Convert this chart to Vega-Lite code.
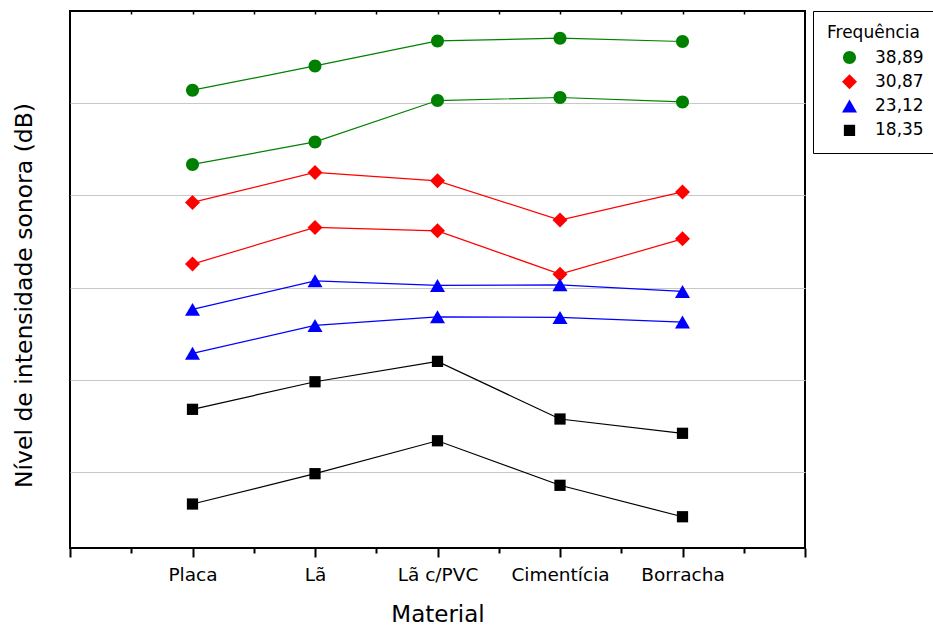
{
  "$schema": "https://vega.github.io/schema/vega-lite/v6.json",
  "width": 735,
  "height": 537,
  "autosize": "none",
  "padding": {"left": 70, "top": 11, "right": 128, "bottom": 78},
  "background": "white",
  "config": {
    "font": "DejaVu Sans",
    "view": {"stroke": "#000", "strokeWidth": 2}
  },
  "data": {
    "values": [
      {"idx": 1, "material": "Placa", "freq": "38,89", "serie": "38,89 a", "nivel": 61.41},
      {"idx": 2, "material": "Lã", "freq": "38,89", "serie": "38,89 a", "nivel": 64.04},
      {"idx": 3, "material": "Lã c/PVC", "freq": "38,89", "serie": "38,89 a", "nivel": 66.75},
      {"idx": 4, "material": "Cimentícia", "freq": "38,89", "serie": "38,89 a", "nivel": 67.05},
      {"idx": 5, "material": "Borracha", "freq": "38,89", "serie": "38,89 a", "nivel": 66.69},
      {"idx": 1, "material": "Placa", "freq": "38,89", "serie": "38,89 b", "nivel": 53.36},
      {"idx": 2, "material": "Lã", "freq": "38,89", "serie": "38,89 b", "nivel": 55.80},
      {"idx": 3, "material": "Lã c/PVC", "freq": "38,89", "serie": "38,89 b", "nivel": 60.29},
      {"idx": 4, "material": "Cimentícia", "freq": "38,89", "serie": "38,89 b", "nivel": 60.62},
      {"idx": 5, "material": "Borracha", "freq": "38,89", "serie": "38,89 b", "nivel": 60.14},
      {"idx": 1, "material": "Placa", "freq": "30,87", "serie": "30,87 a", "nivel": 49.24},
      {"idx": 2, "material": "Lã", "freq": "30,87", "serie": "30,87 a", "nivel": 52.49},
      {"idx": 3, "material": "Lã c/PVC", "freq": "30,87", "serie": "30,87 a", "nivel": 51.58},
      {"idx": 4, "material": "Cimentícia", "freq": "30,87", "serie": "30,87 a", "nivel": 47.32},
      {"idx": 5, "material": "Borracha", "freq": "30,87", "serie": "30,87 a", "nivel": 50.38},
      {"idx": 1, "material": "Placa", "freq": "30,87", "serie": "30,87 b", "nivel": 42.55},
      {"idx": 2, "material": "Lã", "freq": "30,87", "serie": "30,87 b", "nivel": 46.53},
      {"idx": 3, "material": "Lã c/PVC", "freq": "30,87", "serie": "30,87 b", "nivel": 46.16},
      {"idx": 4, "material": "Cimentícia", "freq": "30,87", "serie": "30,87 b", "nivel": 41.46},
      {"idx": 5, "material": "Borracha", "freq": "30,87", "serie": "30,87 b", "nivel": 45.29},
      {"idx": 1, "material": "Placa", "freq": "23,12", "serie": "23,12 a", "nivel": 37.64},
      {"idx": 2, "material": "Lã", "freq": "23,12", "serie": "23,12 a", "nivel": 40.74},
      {"idx": 3, "material": "Lã c/PVC", "freq": "23,12", "serie": "23,12 a", "nivel": 40.24},
      {"idx": 4, "material": "Cimentícia", "freq": "23,12", "serie": "23,12 a", "nivel": 40.30},
      {"idx": 5, "material": "Borracha", "freq": "23,12", "serie": "23,12 a", "nivel": 39.59},
      {"idx": 1, "material": "Placa", "freq": "23,12", "serie": "23,12 b", "nivel": 32.87},
      {"idx": 2, "material": "Lã", "freq": "23,12", "serie": "23,12 b", "nivel": 35.90},
      {"idx": 3, "material": "Lã c/PVC", "freq": "23,12", "serie": "23,12 b", "nivel": 36.83},
      {"idx": 4, "material": "Cimentícia", "freq": "23,12", "serie": "23,12 b", "nivel": 36.77},
      {"idx": 5, "material": "Borracha", "freq": "23,12", "serie": "23,12 b", "nivel": 36.26},
      {"idx": 1, "material": "Placa", "freq": "18,35", "serie": "18,35 a", "nivel": 26.80},
      {"idx": 2, "material": "Lã", "freq": "18,35", "serie": "18,35 a", "nivel": 29.79},
      {"idx": 3, "material": "Lã c/PVC", "freq": "18,35", "serie": "18,35 a", "nivel": 32.00},
      {"idx": 4, "material": "Cimentícia", "freq": "18,35", "serie": "18,35 a", "nivel": 25.75},
      {"idx": 5, "material": "Borracha", "freq": "18,35", "serie": "18,35 a", "nivel": 24.20},
      {"idx": 1, "material": "Placa", "freq": "18,35", "serie": "18,35 b", "nivel": 16.53},
      {"idx": 2, "material": "Lã", "freq": "18,35", "serie": "18,35 b", "nivel": 19.82},
      {"idx": 3, "material": "Lã c/PVC", "freq": "18,35", "serie": "18,35 b", "nivel": 23.39},
      {"idx": 4, "material": "Cimentícia", "freq": "18,35", "serie": "18,35 b", "nivel": 18.56},
      {"idx": 5, "material": "Borracha", "freq": "18,35", "serie": "18,35 b", "nivel": 15.15}
    ]
  },
  "encoding": {
    "y": {
      "field": "nivel",
      "type": "quantitative",
      "scale": {"domain": [11.76, 70], "nice": false, "zero": false},
      "axis": {
        "values": [20, 30, 40, 50, 60],
        "grid": true,
        "gridColor": "#c8c8c8",
        "gridWidth": 1.2,
        "domain": false,
        "ticks": false,
        "labels": false,
        "title": "Nível de intensidade sonora (dB)",
        "titleFont": "DejaVu Sans",
        "titleFontSize": 23.5,
        "titleFontWeight": "normal",
        "titleColor": "#000",
        "titlePadding": 34,
        "titleY": 284
      }
    },
    "color": {
      "field": "freq",
      "type": "nominal",
      "scale": {"domain": ["38,89", "30,87", "23,12", "18,35"], "range": ["#008000", "#ff0000", "#0000ff", "#000000"]},
      "legend": {
        "title": "Frequência",
        "orient": "right",
        "offset": 8,
        "padding": 14,
        "strokeColor": "#000",
        "titleFont": "DejaVu Sans",
        "titleFontSize": 17,
        "titleFontWeight": "normal",
        "titleColor": "#000",
        "titlePadding": 7,
        "labelFont": "DejaVu Sans",
        "labelFontSize": 17,
        "labelColor": "#000",
        "rowPadding": 6.3,
        "symbolSize": 225,
        "symbolStrokeWidth": 0,
        "symbolOffset": 14,
        "labelOffset": 17,
        "encode": {
          "symbols": {
            "update": {
              "shape": {
                "condition": [
                  {"test": "datum.value === '38,89'", "value": "M-2.87,-0.067H2.87V0.067H-2.87ZM0.867,0A0.867,0.867,0,1,1,-0.867,0A0.867,0.867,0,1,1,0.867,0Z"},
                  {"test": "datum.value === '30,87'", "value": "M-2.87,-0.067H2.87V0.067H-2.87ZM-1,0L0,-1L1,0L0,1Z"},
                  {"test": "datum.value === '23,12'", "value": "M-2.87,-0.067H2.87V0.067H-2.87ZM0,-0.866L1,0.866L-1,0.866Z"}
                ],
                "value": "M-2.87,-0.067H2.87V0.067H-2.87ZM-0.75,-0.75H0.75V0.75H-0.75Z"
              }
            }
          }
        }
      }
    }
  },
  "layer": [
    {
      "mark": {"type": "line", "strokeWidth": 1.2},
      "encoding": {
        "x": {
          "field": "idx",
          "type": "quantitative",
          "scale": {"domain": [0, 6], "nice": false, "zero": false},
          "axis": {
            "orient": "bottom",
            "values": [0, 1, 2, 3, 4, 5, 6],
            "domain": false,
            "grid": false,
            "tickSize": 9,
            "tickWidth": 2,
            "tickColor": "#000",
            "labelExpr": "['', 'Placa', 'Lã', 'Lã c/PVC', 'Cimentícia', 'Borracha', ''][datum.value]",
            "labelFont": "DejaVu Sans",
            "labelFontSize": 18.5,
            "labelColor": "#000",
            "labelPadding": 8,
            "labelFlush": false,
            "labelOverlap": false,
            "title": "Material",
            "titleFont": "DejaVu Sans",
            "titleFontSize": 23,
            "titleFontWeight": "normal",
            "titleColor": "#000",
            "titlePadding": 20
          }
        },
        "detail": {"field": "serie", "type": "nominal"}
      }
    },
    {
      "mark": {"type": "point", "filled": true, "opacity": 1, "size": 225, "strokeWidth": 0},
      "encoding": {
        "x": {
          "field": "idx",
          "type": "quantitative",
          "scale": {"domain": [0, 6], "nice": false, "zero": false},
          "axis": {
            "orient": "bottom",
            "values": [0.5, 1.5, 2.5, 3.5, 4.5, 5.5],
            "domain": false,
            "grid": false,
            "labels": false,
            "tickSize": 5,
            "tickWidth": 2,
            "tickColor": "#000",
            "title": null
          }
        },
        "shape": {
          "field": "freq",
          "type": "nominal",
          "scale": {
            "domain": ["38,89", "30,87", "23,12", "18,35"],
            "range": [
              "M0.867,0A0.867,0.867,0,1,1,-0.867,0A0.867,0.867,0,1,1,0.867,0Z",
              "M-1,0L0,-1L1,0L0,1Z",
              "M0,-0.866L1,0.866L-1,0.866Z",
              "M-0.75,-0.75H0.75V0.75H-0.75Z"
            ]
          },
          "legend": {
            "title": "Frequência",
            "orient": "right",
            "offset": 8,
            "padding": 14,
            "strokeColor": "#000",
            "titleFont": "DejaVu Sans",
            "titleFontSize": 17,
            "titleFontWeight": "normal",
            "titleColor": "#000",
            "titlePadding": 7,
            "labelFont": "DejaVu Sans",
            "labelFontSize": 17,
            "labelColor": "#000",
            "rowPadding": 6.3,
            "symbolSize": 225,
            "symbolStrokeWidth": 0,
            "symbolOffset": 14,
            "labelOffset": 17,
            "encode": {
              "symbols": {
                "update": {
                  "shape": {
                    "condition": [
                      {"test": "datum.value === '38,89'", "value": "M-2.87,-0.067H2.87V0.067H-2.87ZM0.867,0A0.867,0.867,0,1,1,-0.867,0A0.867,0.867,0,1,1,0.867,0Z"},
                      {"test": "datum.value === '30,87'", "value": "M-2.87,-0.067H2.87V0.067H-2.87ZM-1,0L0,-1L1,0L0,1Z"},
                      {"test": "datum.value === '23,12'", "value": "M-2.87,-0.067H2.87V0.067H-2.87ZM0,-0.866L1,0.866L-1,0.866Z"}
                    ],
                    "value": "M-2.87,-0.067H2.87V0.067H-2.87ZM-0.75,-0.75H0.75V0.75H-0.75Z"
                  }
                }
              }
            }
          }
        }
      }
    },
    {
      "transform": [{"filter": "false"}],
      "mark": {"type": "point", "opacity": 0},
      "encoding": {
        "x": {
          "field": "idx",
          "type": "quantitative",
          "scale": {"domain": [0, 6], "nice": false, "zero": false},
          "axis": {
            "orient": "top",
            "values": [0.5, 1, 1.5, 2, 2.5, 3, 3.5, 4, 4.5, 5, 5.5],
            "domain": false,
            "grid": false,
            "labels": false,
            "tickSize": -3,
            "tickWidth": 1.5,
            "tickColor": "#000",
            "title": null
          }
        }
      }
    }
  ],
  "resolve": {"axis": {"x": "independent"}}
}
